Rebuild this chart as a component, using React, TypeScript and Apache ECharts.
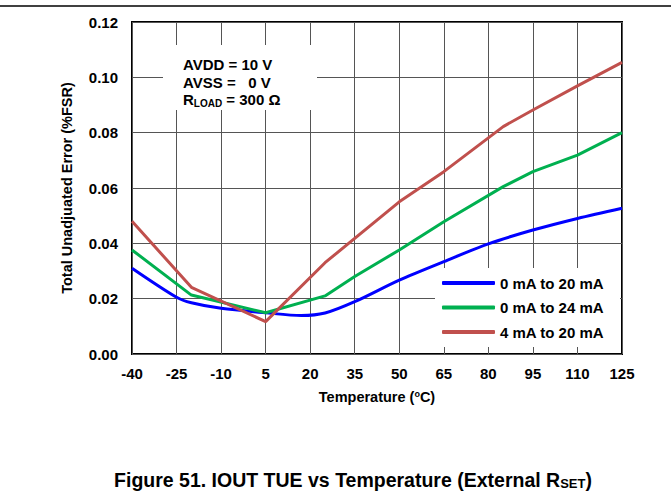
import React, { useEffect, useRef } from "react";
import * as echarts from "echarts";

const FONT = "Arial, 'Liberation Sans', sans-serif";

const yTicks = ["0.00", "0.02", "0.04", "0.06", "0.08", "0.10", "0.12"];

const blueTemps = [-40, -25, -20, -10, 5, 17, 25, 35, 50, 65, 80, 95, 110, 125];
const blueVals = [0.031, 0.0205, 0.0185, 0.0165, 0.0149, 0.0139, 0.0148, 0.0189, 0.0267, 0.0334, 0.0398, 0.0448, 0.049, 0.0527];

const greenTemps = [-40, -20, 5, 25, 35, 50, 65, 85, 95, 110, 125];
const greenVals = [0.0376, 0.0213, 0.0149, 0.021, 0.028, 0.0376, 0.0478, 0.0605, 0.0659, 0.0719, 0.08];

const redTemps = [-40, -20, 5, 25, 50, 65, 85, 95, 110, 125];
const redVals = [0.048, 0.0241, 0.0117, 0.033, 0.055, 0.0659, 0.0822, 0.0882, 0.0969, 0.1054];

const seriesNames = ["0 mA to 20 mA", "0 mA to 24 mA", "4 mA to 20 mA"];
const seriesColors = ["#0000ff", "#00b050", "#c0504d"];

const pairs = (xs: number[], ys: number[]) => xs.map((x, i) => [x, ys[i]]);

export default function App() {
  const ref = useRef<HTMLDivElement>(null);
  useEffect(() => {
    if (!ref.current) return;
    const chart = echarts.init(ref.current, null, { renderer: "svg" });
    const data = [pairs(blueTemps, blueVals), pairs(greenTemps, greenVals), pairs(redTemps, redVals)];
    chart.setOption({
      animation: false,
      backgroundColor: "#ffffff",
      grid: {
        left: 132,
        right: 49,
        top: 22,
        bottom: 139,
        show: true,
        borderColor: "#000",
        borderWidth: 2,
        backgroundColor: "transparent",
      },
      xAxis: {
        type: "value",
        min: -40,
        max: 125,
        interval: 15,
        axisLine: { show: false },
        axisTick: { show: false },
        splitLine: { show: true, lineStyle: { color: "#555", width: 1 } },
        axisLabel: { fontFamily: FONT, fontWeight: "bold", fontSize: 15, color: "#000", margin: 12 },
        name: "{a|Temperature (}{s|o}{a|C)}",
        nameLocation: "middle",
        nameGap: 35,
        nameTextStyle: {
          rich: {
            a: { fontFamily: FONT, fontWeight: "bold", fontSize: 14.5, color: "#000" },
            s: { fontFamily: FONT, fontWeight: "bold", fontSize: 9, color: "#000", verticalAlign: "top", padding: [0, 0, 7, 0] },
          },
        },
      },
      yAxis: {
        type: "value",
        min: 0,
        max: 0.12,
        interval: 0.02,
        axisLine: { show: false },
        axisTick: { show: false },
        splitLine: { show: true, lineStyle: { color: "#555", width: 1 } },
        axisLabel: {
          fontFamily: FONT,
          fontWeight: "bold",
          fontSize: 15,
          color: "#000",
          margin: 14,
          formatter: (v: number) => yTicks[Math.round(v / 0.02)] ?? "",
        },
        name: "Total Unadjuated Error (%FSR)",
        nameLocation: "middle",
        nameGap: 58,
        nameTextStyle: { fontFamily: FONT, fontWeight: "bold", fontSize: 14.5, color: "#000" },
      },
      legend: {
        orient: "vertical",
        left: 442,
        top: 274.5,
        padding: 0,
        itemWidth: 53,
        itemHeight: 4,
        itemGap: 7.5,
        icon: "roundRect",
        textStyle: { fontFamily: FONT, fontWeight: "bold", fontSize: 15, color: "#000", lineHeight: 17 },
        data: seriesNames,
        z: 10,
      },
      graphic: [
        { type: "line", shape: { x1: 0, y1: 6, x2: 671, y2: 6 }, style: { stroke: "#000", lineWidth: 1.5 }, z: 5 },
        { type: "rect", shape: { x: 163, y: 45, width: 154, height: 65 }, style: { fill: "#fff" }, z: 1 },
        { type: "rect", shape: { x: 435, y: 268, width: 185, height: 79 }, style: { fill: "#fff" }, z: 1 },
        {
          type: "text",
          x: 183,
          y: 56,
          z: 5,
          style: {
            text: "{a|AVDD = 10 V}\n{a|AVSS =   0 V}\n{a|R}{s|LOAD}{a| = 300 Ω}",
            rich: {
              a: { fontFamily: FONT, fontWeight: "bold", fontSize: 15, fill: "#000", lineHeight: 17.5 },
              s: { fontFamily: FONT, fontWeight: "bold", fontSize: 10, fill: "#000", lineHeight: 17.5, padding: [8, 0, 0, 0] },
            },
          },
        },
        {
          type: "text",
          x: 353,
          y: 480,
          z: 5,
          style: {
            text: "{a|Figure 51. IOUT TUE vs Temperature (External R}{s|SET}{a|)}",
            align: "center",
            verticalAlign: "middle",
            rich: {
              a: { fontFamily: FONT, fontWeight: "bold", fontSize: 19.5, fill: "#000" },
              s: { fontFamily: FONT, fontWeight: "bold", fontSize: 13, fill: "#000", padding: [7, 0, 0, 0] },
            },
          },
        },
      ],
      series: data.map((d, i) => ({
        type: "line",
        name: seriesNames[i],
        data: d,
        showSymbol: false,
        symbol: "none",
        smooth: i === 0 ? 0.3 : false,
        lineStyle: { color: seriesColors[i], width: 3 },
        itemStyle: { color: seriesColors[i] },
        z: 3,
      })),
    });
    return () => chart.dispose();
  }, []);
  return <div ref={ref} style={{ width: 671, height: 493, position: "absolute", left: 0, top: 0 }} />;
}
